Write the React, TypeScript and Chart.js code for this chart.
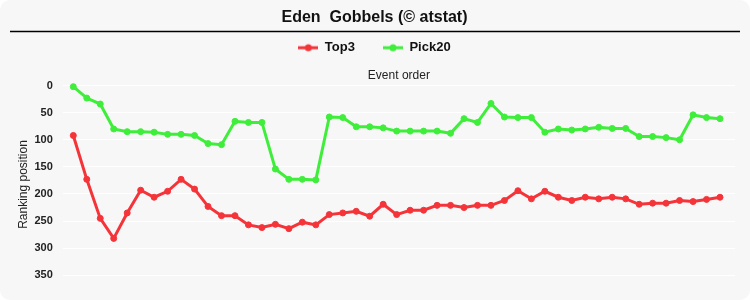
import React, { useEffect, useRef } from "react";
import { Chart, registerables } from "chart.js";

Chart.register(...registerables);

const chartTitle = "Eden  Gobbels (© atstat)";
const xAxisTitle = "Event order";
const yAxisTitle = "Ranking position";
const seriesNames = ["Top3", "Pick20"];

const top3: number[] = [
  92, 173, 245, 282, 235, 193, 206, 195, 173, 191, 223, 240, 240, 257, 262, 256, 264,
  252, 257, 238, 235, 232, 241, 219, 238, 230, 230, 221, 221, 225, 221, 221, 212, 194,
  209, 195, 206, 212, 206, 209, 206, 209, 219, 217, 217, 212, 214, 210, 206,
];

const pick20: number[] = [
  2, 23, 34, 80, 85, 85, 86, 90, 90, 92, 107, 109, 66, 68, 68, 154, 173, 173, 174, 58,
  59, 76, 76, 78, 84, 84, 84, 84, 88, 61, 68, 33, 58, 59, 59, 86, 80, 82, 80, 77, 79,
  79, 94, 94, 96, 100, 54, 59, 61,
];

const yTickValues = [0, 50, 100, 150, 200, 250, 300, 350];

const RED = "rgb(245, 52, 58)";
const GREEN = "rgb(62, 238, 58)";
const FONT = "'Liberation Sans', Arial, sans-serif";

function legendIcon(color: string): HTMLCanvasElement {
  const c = document.createElement("canvas");
  c.width = 20;
  c.height = 10;
  const ctx = c.getContext("2d")!;
  ctx.strokeStyle = color;
  ctx.lineWidth = 3;
  ctx.beginPath();
  ctx.moveTo(0, 5);
  ctx.lineTo(20, 5);
  ctx.stroke();
  ctx.fillStyle = color;
  ctx.beginPath();
  ctx.arc(10, 5, 3.5, 0, Math.PI * 2);
  ctx.fill();
  return c;
}

const titleLine = {
  id: "titleLine",
  afterDraw(chart: any) {
    const ctx = chart.ctx;
    ctx.save();
    ctx.strokeStyle = "#000";
    ctx.lineWidth = 1.5;
    ctx.beginPath();
    ctx.moveTo(10, 31.5);
    ctx.lineTo(740, 31.5);
    ctx.stroke();
    ctx.restore();
  },
};

export default function App() {
  const ref = useRef<HTMLCanvasElement | null>(null);

  useEffect(() => {
    document.body.style.margin = "0";
    if (!ref.current) return;
    const icons = [legendIcon(RED), legendIcon(GREEN)];
    const mk = (name: string, vals: number[], color: string) => ({
      label: name,
      data: vals.map((v, i) => ({ x: i, y: v })),
      borderColor: color,
      backgroundColor: color,
      pointBackgroundColor: color,
      pointBorderColor: color,
      borderWidth: 3,
      pointRadius: 3,
      pointBorderWidth: 1,
      pointStyle: "circle",
      tension: 0,
      clip: false as any,
    });
    const chart = new Chart(ref.current, {
      type: "line",
      data: {
        datasets: [mk(seriesNames[0], top3, RED), mk(seriesNames[1], pick20, GREEN)],
      },
      plugins: [titleLine],
      options: {
        animation: false,
        responsive: false,
        layout: { padding: { left: 14, right: 15, bottom: 8, top: 0 } },
        plugins: {
          title: {
            display: true,
            text: chartTitle,
            color: "#111",
            font: { family: FONT, size: 16, weight: "bold" },
            padding: { top: 8, bottom: -14 },
          },
          legend: {
            display: true,
            labels: {
              usePointStyle: true,
              pointStyleWidth: 20,
              padding: 28,
              color: "#111",
              font: { family: FONT, size: 13, weight: "bold" },
              generateLabels: (chart: any) =>
                chart.data.datasets.map((ds: any, i: number) => ({
                  text: ds.label,
                  pointStyle: icons[i],
                  fillStyle: ds.borderColor,
                  strokeStyle: ds.borderColor,
                  lineWidth: 0,
                  hidden: false,
                  datasetIndex: i,
                  fontColor: "#111",
                })),
            },
          },
          tooltip: { enabled: false },
        },
        scales: {
          x: {
            type: "linear",
            position: "top",
            min: -0.783,
            max: 49.113,
            ticks: { display: false },
            grid: { display: false, drawTicks: false },
            border: { display: false },
            title: {
              display: true,
              text: xAxisTitle,
              color: "#222",
              padding: { top: 4, bottom: 3 },
              font: { family: FONT, size: 12 },
            },
          },
          y: {
            reverse: true,
            min: 0,
            max: 365,
            afterBuildTicks: (scale: any) => {
              scale.ticks = yTickValues.map((v) => ({ value: v }));
            },
            afterFit: (scale: any) => {
              scale.width = 48.75;
            },
            ticks: {
              padding: 10,
              color: "#222",
              font: { family: FONT, size: 11, weight: "bold" },
            },
            grid: { color: "#ffffff", lineWidth: 1, drawTicks: false },
            border: { display: false },
            title: {
              display: true,
              text: yAxisTitle,
              color: "#222",
              padding: { top: 2, bottom: 4 },
              font: { family: FONT, size: 12 },
            },
          },
        },
      },
    });
    return () => chart.destroy();
  }, []);

  return (
    <div
      style={{
        width: 750,
        height: 300,
        background: "#f7f7f7",
        borderRadius: 10,
        overflow: "hidden",
      }}
    >
      <canvas ref={ref} width={750} height={300} style={{ display: "block" }} />
    </div>
  );
}
